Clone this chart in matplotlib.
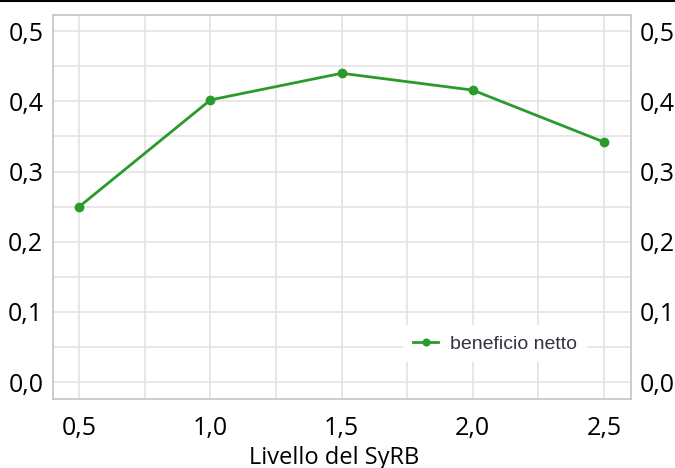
import matplotlib.pyplot as plt
from matplotlib.ticker import FixedLocator, MultipleLocator, FuncFormatter
from matplotlib.lines import Line2D

# Dati
livello = [0.5, 1.0, 1.5, 2.0, 2.5]
beneficio = [0.250, 0.402, 0.440, 0.416, 0.342]
y_ticks = [0.0, 0.1, 0.2, 0.3, 0.4, 0.5]
x_ticks = [0.5, 1.0, 1.5, 2.0, 2.5]

verde = '#2a9a2a'
virgola = FuncFormatter(lambda v, p: f"{v:.1f}".replace('.', ','))

fig = plt.figure(figsize=(6.75, 4.68), dpi=100)
ax = fig.add_axes([53/675, 1 - 399/468, (631-53)/675, (399-15)/468])

ax.plot(livello, beneficio, color=verde, lw=2, marker='o', ms=6, label='beneficio netto')

ax.set_xlim(0.40, 2.603)
ax.set_ylim(-0.024, 0.523)
ax.xaxis.set_major_locator(FixedLocator(x_ticks))
ax.xaxis.set_minor_locator(MultipleLocator(0.25))
ax.yaxis.set_major_locator(FixedLocator(y_ticks))
ax.yaxis.set_minor_locator(MultipleLocator(0.05))
ax.xaxis.set_major_formatter(virgola)
ax.yaxis.set_major_formatter(virgola)
ax.grid(True, which='both', color='#e3e3e3', lw=1.2)
ax.set_axisbelow(True)
ax.tick_params(which='both', length=0, labelsize=18, pad=7)
ax.tick_params(axis='x', pad=12)
for s in ax.spines.values():
    s.set_color('#c4c4c4')
    s.set_linewidth(1.2)

ax2 = ax.twinx()
ax2.set_ylim(ax.get_ylim())
ax2.yaxis.set_major_locator(FixedLocator(y_ticks))
ax2.yaxis.set_major_formatter(virgola)
ax2.tick_params(length=0, labelsize=18, pad=6)
for s in ax2.spines.values():
    s.set_visible(False)

for t in ax.get_xticklabels() + ax.get_yticklabels() + ax2.get_yticklabels():
    t.set_fontfamily('Open Sans')

fig.text(0.495, 1 - 446/468, 'Livello del SyRB', fontsize=17, family='Open Sans',
         ha='center', va='top')

leg = ax.legend(loc='lower right', bbox_to_anchor=(0.94, 0.07), frameon=True,
                prop={'family': 'Liberation Sans', 'size': 14}, handlelength=1.3,
                handletextpad=0.6, markerscale=0.8, borderpad=0.5)
leg.get_frame().set_edgecolor('none')
leg.get_frame().set_facecolor('white')
leg.get_frame().set_alpha(1)
leg.get_frame().set_boxstyle('square', pad=0)
for t in leg.get_texts():
    t.set_color('#333344')

fig.add_artist(Line2D([0, 1], [1 - 0.8/468, 1 - 0.8/468], color='black', lw=1.5,
                      transform=fig.transFigure))

fig.savefig('out.png', dpi=100)
